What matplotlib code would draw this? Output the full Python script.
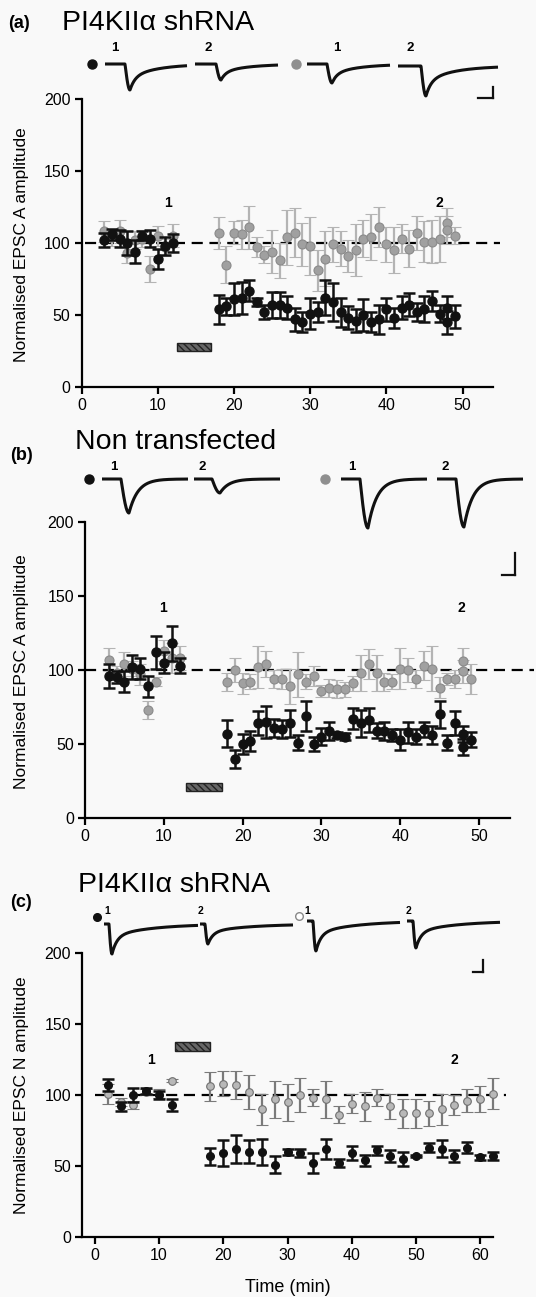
import numpy as np
import matplotlib
matplotlib.use("Agg")
import matplotlib.pyplot as plt
from matplotlib.patches import Rectangle

plt.rcParams['font.family'] = ['Liberation Sans', 'DejaVu Sans']

W, H = 536, 1297

# ---------------- data (a) ----------------
a_x = [3, 4, 5, 6, 7, 8, 9, 10, 11, 12] + list(range(18, 49)) + [48, 49]
a_black = [102, 106, 103, 100, 94, 105, 103, 89, 98, 100,
           54, 56, 61, 62, 67, 59, 52, 57, 57, 55, 47, 45, 51, 52, 62, 59, 52, 48,
           46, 50, 45, 47, 54, 48, 55, 57, 52, 54, 60, 51, 55, 45, 49]
a_black_err = [5, 4, 6, 8, 8, 3, 6, 7, 6, 6,
               10, 6, 11, 11, 7, 3, 5, 9, 9, 8, 8, 7, 11, 7, 12, 13, 10, 8,
               8, 11, 7, 10, 8, 7, 8, 8, 6, 9, 7, 6, 8, 8, 8]
a_grey = [108, 104, 108, 93, 102, 103, 82, 105, 97, 105,
          107, 85, 107, 106, 111, 97, 92, 94, 88, 104, 107, 99, 98, 81, 89, 99, 96, 91,
          95, 103, 104, 111, 99, 95, 103, 96, 107, 101, 101, 103, 114, 109, 105]
a_grey_err = [7, 6, 8, 7, 6, 6, 9, 7, 6, 8,
              11, 13, 8, 10, 15, 7, 6, 15, 12, 19, 17, 15, 20, 14, 19, 12, 12, 11,
              18, 13, 16, 14, 12, 16, 10, 13, 12, 14, 15, 16, 10, 10, 6]

# ---------------- data (b) ----------------
b_x = [3, 4, 5, 6, 7, 8, 9, 10, 11, 12] + list(range(18, 49)) + [48, 49]
b_black = [96, 95, 92, 102, 101, 89, 112, 105, 118, 103,
           57, 40, 50, 52, 64, 65, 61, 60, 64, 51, 69, 50, 55, 59, 56, 55, 67, 64,
           66, 59, 59, 56, 53, 58, 55, 60, 56, 70, 51, 64, 57, 48, 53]
b_black_err = [8, 4, 7, 8, 7, 7, 11, 7, 12, 5,
               9, 6, 7, 7, 8, 11, 6, 6, 9, 5, 10, 5, 6, 6, 2, 2.5, 7, 9,
               8, 5, 6, 4, 7, 7, 5, 5, 6, 9, 5, 8, 5.5, 5.5, 5]
b_grey = [107, 98, 104, 101, 97, 73, 92, 113, 108, 108,
          92, 100, 91, 92, 102, 104, 94, 94, 89, 97, 92, 96, 86, 88, 87, 87, 91, 98,
          104, 98, 92, 92, 101, 100, 94, 103, 101, 88, 94, 94, 106, 99, 94]
b_grey_err = [8, 5, 8, 5, 7, 6, 3, 7, 10, 8,
              6, 8, 7, 5, 14, 9, 6, 7, 12, 15, 5, 7, 4, 6, 6, 5, 5, 12,
              10, 12, 6, 5, 14, 8, 6, 10, 15, 7, 4, 6, 9, 8, 10]

# ---------------- data (c) ----------------
c_x = [2, 4, 6, 8, 10, 12] + list(range(18, 63, 2))
c_black = [107, 92, 100, 103, 100, 93,
           57, 59, 62, 60, 60, 51, 60, 59, 52, 62, 52, 59, 54, 61, 57, 55, 57, 63,
           62, 57, 63, 56, 57]
c_black_err = [4, 3, 5, 2, 3, 4,
               6, 9, 10, 8, 9, 6, 2, 3, 7, 7, 3, 5, 4, 3, 4, 5, 1, 3, 6, 4, 4, 2, 3]
c_grey = [101, 95, 93, 102, 101, 110,
          106, 108, 107, 102, 90, 97, 95, 100, 98, 97, 86, 94, 92, 98, 92, 87, 87, 87,
          90, 93, 96, 97, 101]
c_grey_err = [7, 3, 3, 2, 3, 1,
              10, 9, 10, 12, 11, 13, 13, 12, 6, 13, 6, 7, 10, 6, 9, 10, 10, 9, 11, 7, 8, 9, 11]

# drug application bars: (x start, x end, y low, y high)
bar_a = (12.5, 17.0, 25, 30.5)
bar_b = (12.8, 17.4, 18.5, 23.5)
bar_c = (12.5, 18.0, 131, 137)

# example trace layout per panel: (x0, x_drop, x1, y_base, depth) in pixels
traces_a = [(105, 125, 187, 64, 26), (195, 216, 278, 64, 16),
            (307, 327, 390, 64, 19), (398, 421, 498, 66, 30)]
traces_b = [(102, 121, 188, 479, 34), (194, 212, 280, 479, 14),
            (341, 360, 427, 479, 49), (437, 456, 523, 479, 48)]
traces_c = [(104, 109, 198, 924, 30), (200, 205, 293, 924, 20),
            (307, 313, 400, 921, 30), (407, 413, 500, 921, 27)]
# shape: (rise, fast fraction, tau fast, tau slow)
shape_a = (5, 0.5, 5, 28)
shape_b = (8, 1.0, 9, 9)
shape_c = (3, 0.6, 5, 40)

fig = plt.figure(figsize=(W / 100, H / 100), dpi=100)
fig.patch.set_facecolor('#f9f9f9')


def px_axes(l, r, t, b):
    ax = fig.add_axes([l / W, 1 - b / H, (r - l) / W, (b - t) / H])
    ax.set_facecolor('none')
    return ax


def style(ax, xlim, xticks):
    ax.set_xlim(*xlim)
    ax.set_ylim(0, 200)
    ax.set_xticks(xticks)
    ax.set_yticks([0, 50, 100, 150, 200])
    for s in ['top', 'right']:
        ax.spines[s].set_visible(False)
    for s in ['left', 'bottom']:
        ax.spines[s].set_linewidth(1.6)
    ax.tick_params(direction='out', length=5, width=1.6, labelsize=11.5, pad=3)


def draw(ax, x, yb, eb, yg, eg, bar, gfc, gec, gbar, ms, cap, dash_x):
    ax.plot(dash_x, [100, 100], color='k', lw=1.6, ls=(0, (5, 3)), clip_on=False, zorder=1)
    ax.errorbar(x, yg, yerr=eg, fmt='o', ms=ms, mfc=gfc, mec=gec, mew=0.8,
                ecolor=gbar, elinewidth=1.6, capsize=cap, capthick=1.6, clip_on=False, zorder=2)
    ax.errorbar(x, yb, yerr=eb, fmt='o', ms=ms, mfc='#111111', mec='#111111',
                ecolor='#111111', elinewidth=1.8, capsize=cap, capthick=1.8, clip_on=False, zorder=3)
    ax.add_patch(Rectangle((bar[0], bar[2]), bar[1] - bar[0], bar[3] - bar[2],
                           facecolor='#666666', edgecolor='#222222', hatch='\\\\\\\\\\', lw=1))


# panel a
ax_a = px_axes(81.5, 493, 99, 387)
style(ax_a, (0, 54), [0, 10, 20, 30, 40, 50])
draw(ax_a, a_x, a_black, a_black_err, a_grey, a_grey_err, bar_a,
     '#a0a0a0', '#8a8a8a', '#b4b4b4', 6.5, 4, [0.5, 54.9])
ax_a.text(11.4, 128, '1', fontsize=10, fontweight='bold', ha='center', va='center')
ax_a.text(46.9, 128, '2', fontsize=10, fontweight='bold', ha='center', va='center')

# panel b
ax_b = px_axes(85, 510.5, 522, 818)
style(ax_b, (0, 54), [0, 10, 20, 30, 40, 50])
draw(ax_b, b_x, b_black, b_black_err, b_grey, b_grey_err, bar_b,
     '#a0a0a0', '#8a8a8a', '#b4b4b4', 6.5, 4, [0, 57])
ax_b.text(9.9, 142, '1', fontsize=10, fontweight='bold', ha='center', va='center')
ax_b.text(47.8, 142, '2', fontsize=10, fontweight='bold', ha='center', va='center')

# panel c
ax_c = px_axes(82, 493, 953, 1237)
style(ax_c, (-2, 62), [0, 10, 20, 30, 40, 50, 60])
draw(ax_c, c_x, c_black, c_black_err, c_grey, c_grey_err, bar_c,
     '#b8b8b8', '#707070', '#7a7a7a', 5.5, 4, [0, 64])
ax_c.text(8.7, 124.5, '1', fontsize=10, fontweight='bold', ha='center', va='center')
ax_c.text(56, 124.5, '2', fontsize=10, fontweight='bold', ha='center', va='center')
fig.text(288 / W, 1 - 1287 / H, 'Time (min)', fontsize=13, ha='center', va='center')

# y labels
fig.text(22 / W, 1 - 245 / H, 'Normalised EPSC A amplitude', rotation=90,
         ha='center', va='center', fontsize=12.5)
fig.text(22 / W, 1 - 672 / H, 'Normalised EPSC A amplitude', rotation=90,
         ha='center', va='center', fontsize=12.5)
fig.text(22 / W, 1 - 1095 / H, 'Normalised EPSC N amplitude', rotation=90,
         ha='center', va='center', fontsize=12.5)

# panel titles
fig.text(8 / W, 1 - 28 / H, '(a)', fontsize=13, fontweight='bold', va='baseline')
fig.text(62 / W, 1 - 30 / H, 'PI4KIIα shRNA', fontsize=20.5, va='baseline')
fig.text(10 / W, 1 - 460 / H, '(b)', fontsize=13, fontweight='bold', va='baseline')
fig.text(75 / W, 1 - 449 / H, 'Non transfected', fontsize=20.5, va='baseline')
fig.text(10 / W, 1 - 907 / H, '(c)', fontsize=13, fontweight='bold', va='baseline')
fig.text(78 / W, 1 - 892 / H, 'PI4KIIα shRNA', fontsize=20.5, va='baseline')

# overlay in pixel coordinates for example traces
ov = fig.add_axes([0, 0, 1, 1])
ov.set_xlim(0, W)
ov.set_ylim(H, 0)
ov.axis('off')
ov.patch.set_alpha(0)


def trace(x0, xd, x1, yb, depth, shape):
    rise, f, tf, ts = shape
    xs = np.linspace(x0, x1, 400)
    ys = np.full_like(xs, yb, dtype=float)
    t = xs - xd
    m1 = (t >= 0) & (t < rise)
    ys[m1] = yb + depth * np.sin(np.pi / 2 * t[m1] / rise)
    m2 = t >= rise
    tt = t[m2] - rise
    ys[m2] = yb + depth * (f * np.exp(-tt / tf) + (1 - f) * np.exp(-tt / ts))
    ov.plot(xs, ys, color='#111111', lw=2.2, solid_capstyle='butt')


for tr in traces_a:
    trace(*tr, shape_a)
for tr in traces_b:
    trace(*tr, shape_b)
for tr in traces_c:
    trace(*tr, shape_c)

# legend dots
ov.plot([92], [64], 'o', ms=6.5, color='#111111')
ov.plot([296], [64], 'o', ms=6.5, color='#8f8f8f')
ov.plot([89], [479], 'o', ms=6.5, color='#111111')
ov.plot([325], [479], 'o', ms=6.5, color='#8f8f8f')
ov.plot([97], [917], 'o', ms=5.5, color='#111111')
ov.plot([299], [916], 'o', ms=5.5, mfc='white', mec='#888888', mew=1)

# trace numbers
for xs, y, fs in [([115, 208, 337, 410], 48, 9.5), ([114, 202, 352, 445], 467, 9.5),
                  ([107, 201, 307, 409], 911, 7.5)]:
    for xi, lab in zip(xs, ['1', '2', '1', '2']):
        ov.text(xi, y, lab, fontsize=fs, fontweight='bold', ha='center', va='center')

# scale bars
for xv, y0, y1, xh in [(493, 87, 98, 478), (515, 553, 575, 502), (483, 960, 972, 473)]:
    ov.plot([xv, xv], [y0, y1], color='#111111', lw=1.6)
    ov.plot([xh, xv], [y1, y1], color='#111111', lw=1.6)

fig.savefig('out.png', dpi=100, facecolor=fig.get_facecolor())
